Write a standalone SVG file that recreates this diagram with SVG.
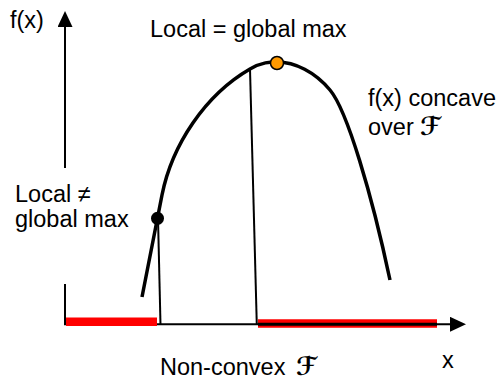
<svg xmlns="http://www.w3.org/2000/svg" width="498" height="381" viewBox="0 0 498 381">
<defs>
<style>
.t{font-family:"Liberation Sans",Arial,sans-serif;font-size:23.5px;fill:#000}
.s{font-family:"DejaVu Serif","DejaVu Sans",serif;font-style:italic;font-weight:bold;font-size:25px}
.ax{stroke:#000;stroke-width:2;fill:none}
.drop{stroke:#000;stroke-width:2;fill:none}
.red{stroke:#FF0000;stroke-width:8.5;fill:none}
</style>
<marker id="arr" markerUnits="userSpaceOnUse" markerWidth="16" markerHeight="16" refX="0" refY="7.5" orient="auto">
<path d="M0,0 L16,7.5 L0,15 z" fill="#000"/>
</marker>
</defs>
<rect width="498" height="381" fill="#fff"/>
<g id="axes">
<line class="ax" x1="65" y1="168" x2="65" y2="27" marker-end="url(#arr)"/>
<line class="ax" x1="65" y1="284" x2="65" y2="325"/>
<line class="ax" x1="64" y1="324.3" x2="450" y2="324.3" marker-end="url(#arr)"/>
</g>
<g id="feasible-set">
<line class="red" x1="66" y1="321.8" x2="157" y2="321.8"/>
<line class="red" x1="258" y1="323.5" x2="437" y2="323.5"/>
<line stroke="#000" stroke-width="3" x1="258" y1="324.3" x2="437" y2="324.3"/>
</g>
<g id="connectors">
<line class="drop" x1="158" y1="218" x2="160.5" y2="325"/>
<line class="drop" x1="250" y1="69" x2="256.8" y2="325"/>
</g>
<g id="curve">
<path d="M142,297 C150,255 156,225 162,195 C172,145 205,95 250,69 C262,62 270,62 277,62 C295,62 315,72 330,90 C347,110 372,195 390,280" fill="none" stroke="#000" stroke-width="3.5"/>
</g>
<g id="local-max">
<circle cx="157.5" cy="218.3" r="6.5" fill="#000"/>
</g>
<g id="global-max">
<circle cx="277" cy="63" r="6.5" fill="#FF9900" stroke="#000" stroke-width="1.5"/>
</g>
<g id="labels">
<text class="t" x="10" y="28">f(x)</text>
<text class="t" x="150" y="37">Local = global max</text>
<text class="t" x="15" y="202">Local ≠</text>
<text class="t" x="15" y="227">global max</text>
<text class="t" x="368" y="106">f(x) concave</text>
<text class="t" x="368" y="135">over <tspan class="s" x="420">ℱ</tspan></text>
<text class="t" x="160" y="375">Non-convex <tspan class="s" x="296">ℱ</tspan></text>
<text class="t" x="442" y="368">x</text>
</g>
</svg>
